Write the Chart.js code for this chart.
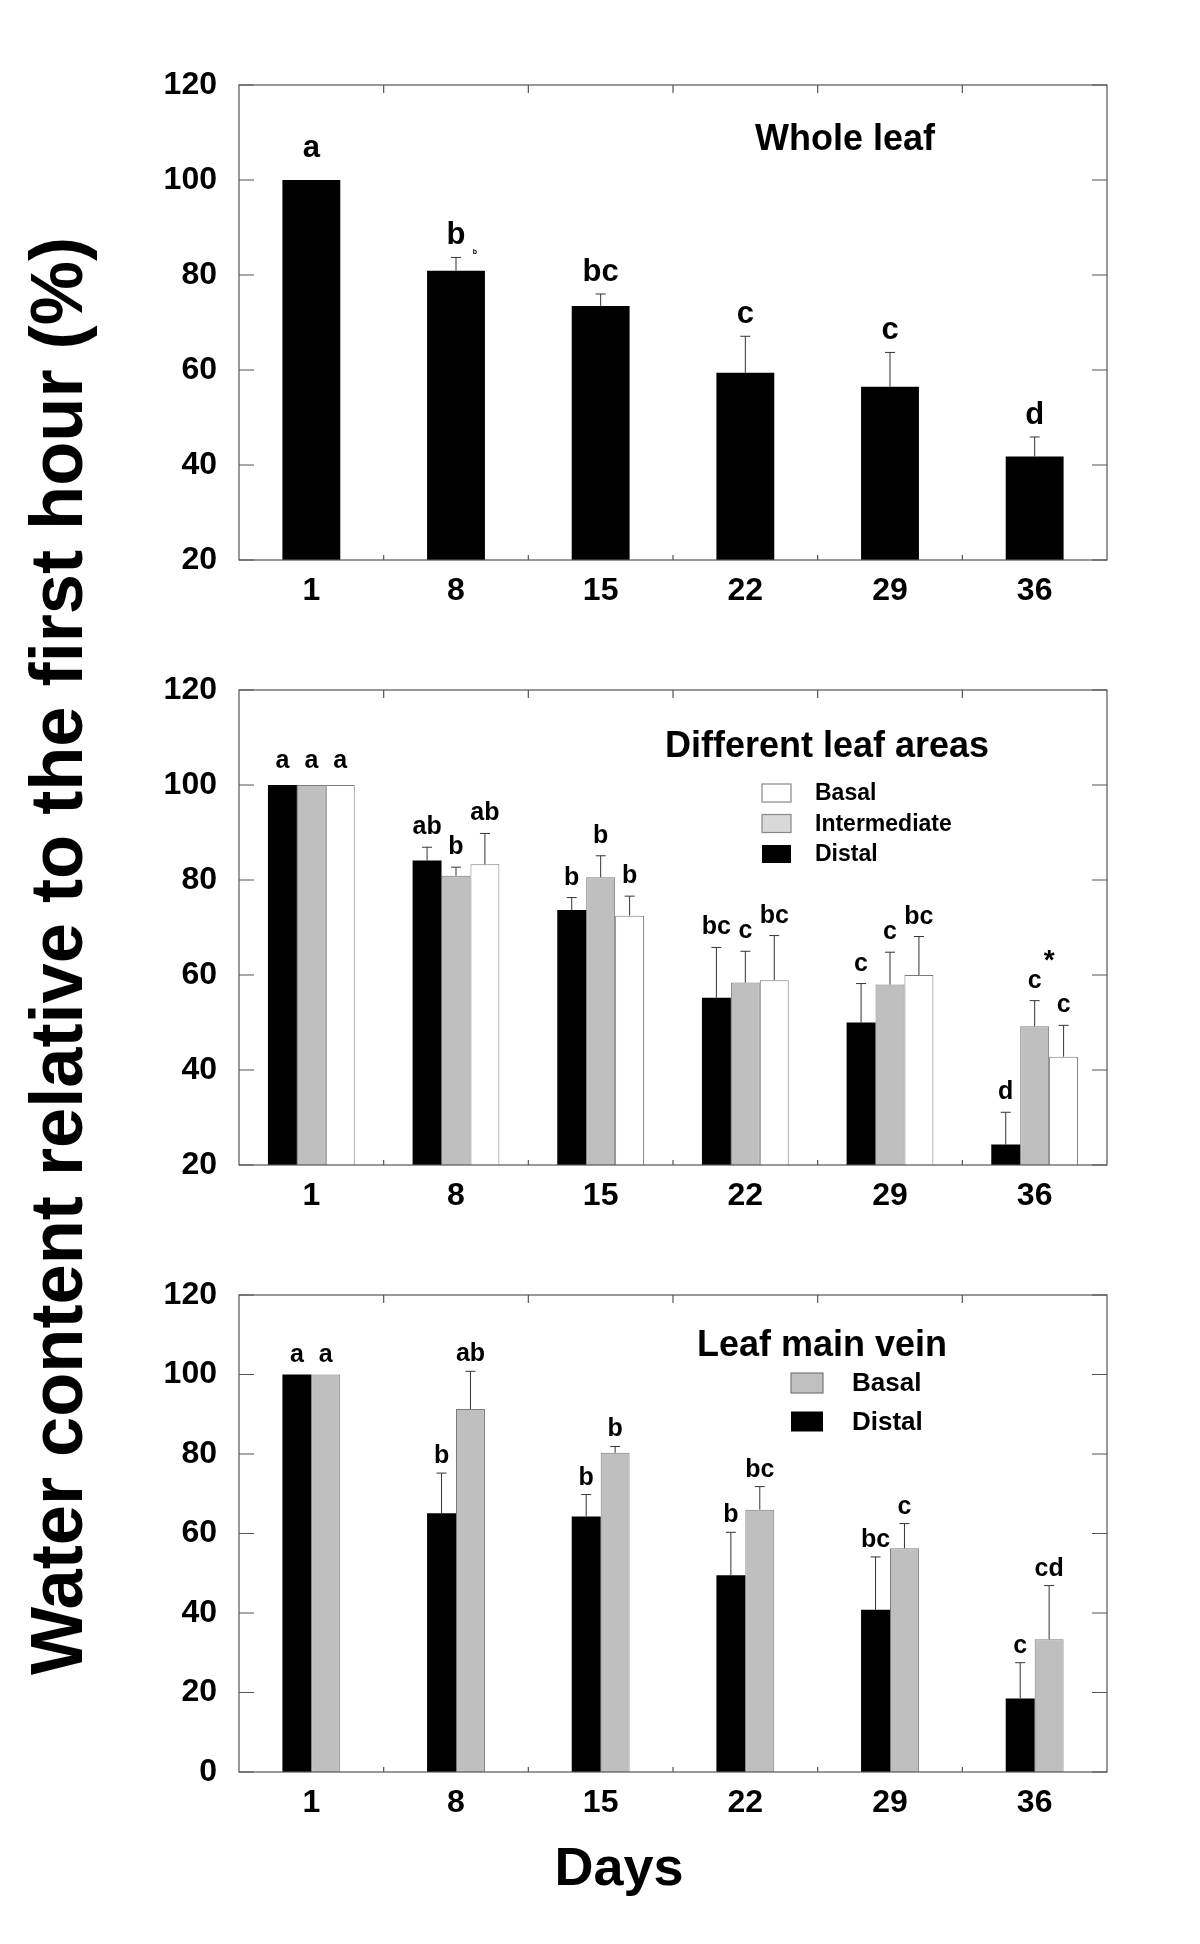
<!DOCTYPE html>
<html>
<head>
<meta charset="utf-8">
<script src="https://cdn.jsdelivr.net/npm/chart.js@4.4.1/dist/chart.umd.min.js"></script>
<style>
  body { margin: 0; background: #fff; width: 1200px; height: 1944px; position: relative; overflow: hidden;
         font-family: "Liberation Sans", Arial, sans-serif; }
  canvas { position: absolute; left: 0; }
  #ytitle { position: absolute; left: 56px; top: 956px; width: 0; height: 0; }
  #ytitle span { position: absolute; left: 0; top: 0; white-space: nowrap; font-weight: bold; font-size: 75px;
                 transform: translate(-50%, -50%) rotate(-90deg) scaleX(0.963); }
  #xtitle { position: absolute; left: 619px; top: 1866px; width: 0; height: 0; }
  #xtitle span { position: absolute; left: 0; top: 0; white-space: nowrap; font-weight: bold; font-size: 54px;
                 transform: translate(-50%, -50%); }
</style>
</head>
<body>
<canvas id="c1" width="1200" height="620" style="top:0px"></canvas>
<canvas id="c2" width="1200" height="610" style="top:620px"></canvas>
<canvas id="c3" width="1200" height="600" style="top:1230px"></canvas>
<div id="ytitle"><span>Water content relative to the first hour (%)</span></div>
<div id="xtitle"><span>Days</span></div>
<script>
// days of measurement
const days = ["1", "8", "15", "22", "29", "36"];

// whole leaf
const wholeLeaf = [100, 80.9, 73.5, 59.4, 56.5, 41.8];
const wholeLeafSd = [0, 2.8, 2.5, 7.7, 7.2, 4.1];
const wholeLeafLetters = ["a", "b", "bc", "c", "c", "d"];

// different leaf areas
const areaDistal = [100, 84.1, 73.7, 55.2, 50.0, 24.3];
const areaDistalSd = [0, 2.8, 2.6, 10.6, 8.2, 6.8];
const areaDistalLetters = ["a", "ab", "b", "bc", "c", "d"];
const areaInter = [100, 80.9, 80.6, 58.4, 58.0, 49.2];
const areaInterSd = [0, 1.8, 4.5, 6.6, 6.8, 5.4];
const areaInterLetters = ["a", "b", "b", "c", "c", "c"];
const areaBasal = [100, 83.3, 72.5, 58.9, 60.0, 42.8];
const areaBasalSd = [0, 6.5, 4.1, 9.4, 8.1, 6.6];
const areaBasalLetters = ["a", "ab", "b", "bc", "bc", "c"];
const areaStars = ["", "", "", "", "", "*"];

// leaf main vein
const veinDistal = [100, 65.1, 64.3, 49.5, 40.8, 18.5];
const veinDistalSd = [0, 10.1, 5.5, 10.8, 13.3, 9.0];
const veinDistalLetters = ["a", "b", "b", "b", "bc", "c"];
const veinBasal = [100, 91.3, 80.3, 66.0, 56.3, 33.4];
const veinBasalSd = [0, 9.5, 1.6, 5.8, 6.2, 13.5];
const veinBasalLetters = ["a", "ab", "b", "bc", "c", "cd"];

const FONT = '"Liberation Sans", Arial, sans-serif';

// error bars, letters, frame, ticks, titles, legends
const decor = {
  id: "decor",
  afterDatasetsDraw(chart, args, o) {
    const ctx = chart.ctx;
    const y = chart.scales.y;
    ctx.save();
    chart.data.datasets.forEach((ds, di) => {
      const meta = chart.getDatasetMeta(di);
      meta.data.forEach((bar, i) => {
        const top = y.getPixelForValue(ds.data[i] + ds.sd[i]);
        if (ds.sd[i] > 0) {
          ctx.strokeStyle = "#333";
          ctx.lineWidth = 1;
          ctx.beginPath();
          ctx.moveTo(bar.x, bar.y);
          ctx.lineTo(bar.x, top);
          ctx.moveTo(bar.x - 5, top);
          ctx.lineTo(bar.x + 5, top);
          ctx.stroke();
        }
        ctx.fillStyle = "#000";
        ctx.font = "bold " + o.letterSize + "px " + FONT;
        ctx.textAlign = "center";
        ctx.textBaseline = "alphabetic";
        // letters over bars without an error bar sit a bit higher
        const gap = o.letterGap + (ds.sd[i] > 0 ? 0 : o.extraGap);
        ctx.fillText(ds.letters[i], bar.x, top - gap);
      });
    });
    // stars over a whole group
    if (o.stars) {
      const n = chart.data.datasets.length;
      o.stars.forEach((s, i) => {
        if (!s) return;
        const a = chart.getDatasetMeta(n - 2).data[i];
        const b = chart.getDatasetMeta(n - 1).data[i];
        let hi = Infinity;
        chart.data.datasets.forEach(ds => {
          hi = Math.min(hi, y.getPixelForValue(ds.data[i] + ds.sd[i]));
        });
        ctx.font = "bold 28px " + FONT;
        ctx.textAlign = "center";
        ctx.fillText(s, (a.x + b.x) / 2, hi - 32);
      });
    }
    // stray small mark
    if (o.note) {
      const ds0 = chart.data.datasets[0];
      const bar = chart.getDatasetMeta(0).data[o.note.index];
      const top = y.getPixelForValue(ds0.data[o.note.index] + ds0.sd[o.note.index]);
      ctx.font = "bold 7px " + FONT;
      ctx.fillText(o.note.text, bar.x + 19, top - 3);
    }
    ctx.restore();
  },
  afterDraw(chart, args, o) {
    const ctx = chart.ctx;
    const a = chart.chartArea;
    const x = chart.scales.x, y = chart.scales.y;
    ctx.save();
    ctx.strokeStyle = "#555";
    ctx.lineWidth = 1.2;
    ctx.strokeRect(a.left, a.top, a.right - a.left, a.bottom - a.top);
    ctx.beginPath();
    for (let i = 1; i < days.length; i++) {
      const bx = (x.getPixelForValue(i - 1) + x.getPixelForValue(i)) / 2;
      ctx.moveTo(bx, a.top); ctx.lineTo(bx, a.top + 8);
      ctx.moveTo(bx, a.bottom); ctx.lineTo(bx, a.bottom - 5);
    }
    y.ticks.forEach(t => {
      const py = y.getPixelForValue(t.value);
      ctx.moveTo(a.left, py); ctx.lineTo(a.left + 15, py);
      ctx.moveTo(a.right, py); ctx.lineTo(a.right - 15, py);
    });
    ctx.stroke();
    // panel title
    ctx.fillStyle = "#000";
    ctx.font = "bold 36px " + FONT;
    ctx.textAlign = "center";
    ctx.textBaseline = "middle";
    ctx.fillText(o.title, a.left + o.titleX, a.top + o.titleY);
    // legend
    if (o.legend) {
      const L = o.legend;
      ctx.textAlign = "left";
      ctx.font = "bold " + L.size + "px " + FONT;
      L.items.forEach((it, k) => {
        const bx = a.left + L.x, by = a.top + L.y + k * L.dy;
        ctx.fillStyle = it.fill;
        ctx.fillRect(bx, by, L.w, L.h);
        if (it.stroke) {
          ctx.strokeStyle = it.stroke;
          ctx.lineWidth = 1.2;
          ctx.strokeRect(bx, by, L.w, L.h);
        }
        ctx.fillStyle = "#000";
        ctx.fillText(it.label, bx + L.gap, by + L.h / 2 + 1);
      });
    }
    ctx.restore();
  }
};

function makePanel(id, datasets, yMin, pad, decorOpts, catPct, barPct) {
  new Chart(document.getElementById(id), {
    type: "bar",
    data: { labels: days, datasets: datasets },
    plugins: [decor],
    options: {
      responsive: false,
      animation: false,
      layout: { padding: pad },
      datasets: { bar: { categoryPercentage: catPct, barPercentage: barPct } },
      plugins: { legend: { display: false }, tooltip: { enabled: false }, decor: decorOpts },
      scales: {
        x: {
          grid: { display: false, drawTicks: false },
          border: { display: false },
          ticks: { color: "#000", padding: 12, font: { family: FONT, size: 32, weight: "bold" } },
          afterFit: s => { s.height = 50; }
        },
        y: {
          min: yMin, max: 120,
          grid: { display: false, drawTicks: false },
          border: { display: false },
          ticks: { stepSize: 20, color: "#000", padding: 22, font: { family: FONT, size: 32, weight: "bold" } },
          afterFit: s => { s.width = 80; }
        }
      }
    }
  });
}

makePanel("c1", [
  { data: wholeLeaf, sd: wholeLeafSd, letters: wholeLeafLetters, backgroundColor: "#000", borderWidth: 0 }
], 20, { left: 159, right: 93, top: 85, bottom: 10 }, {
  title: "Whole leaf", titleX: 606, titleY: 55, letterSize: 31, letterGap: 13, extraGap: 10,
  note: { index: 1, text: "b" }
}, 1.0, 0.4);

makePanel("c2", [
  { label: "Distal", data: areaDistal, sd: areaDistalSd, letters: areaDistalLetters, backgroundColor: "#000", borderWidth: 0 },
  { label: "Intermediate", data: areaInter, sd: areaInterSd, letters: areaInterLetters, backgroundColor: "#bfbfbf", borderColor: "#7a7a7a", borderWidth: 1 },
  { label: "Basal", data: areaBasal, sd: areaBasalSd, letters: areaBasalLetters, backgroundColor: "#fff", borderColor: "#7a7a7a", borderWidth: 1 }
], 20, { left: 159, right: 93, top: 70, bottom: 15 }, {
  title: "Different leaf areas", titleX: 588, titleY: 57, letterSize: 25, letterGap: 13, extraGap: 4,
  stars: areaStars,
  legend: {
    x: 523, y: 94, dy: 30.5, w: 29, h: 18, gap: 53, size: 23,
    items: [
      { label: "Basal", fill: "#fff", stroke: "#888" },
      { label: "Intermediate", fill: "#d9d9d9", stroke: "#888" },
      { label: "Distal", fill: "#000" }
    ]
  }
}, 0.6, 1.0);

makePanel("c3", [
  { label: "Distal", data: veinDistal, sd: veinDistalSd, letters: veinDistalLetters, backgroundColor: "#000", borderWidth: 0 },
  { label: "Basal", data: veinBasal, sd: veinBasalSd, letters: veinBasalLetters, backgroundColor: "#bfbfbf", borderColor: "#7a7a7a", borderWidth: 1 }
], 0, { left: 159, right: 93, top: 65, bottom: 8 }, {
  title: "Leaf main vein", titleX: 583, titleY: 51, letterSize: 25, letterGap: 10, extraGap: 3,
  legend: {
    x: 552, y: 78, dy: 38.5, w: 32, h: 20, gap: 61, size: 26,
    items: [
      { label: "Basal", fill: "#c0c0c0", stroke: "#777" },
      { label: "Distal", fill: "#000" }
    ]
  }
}, 0.4, 1.0);
</script>
</body>
</html>
